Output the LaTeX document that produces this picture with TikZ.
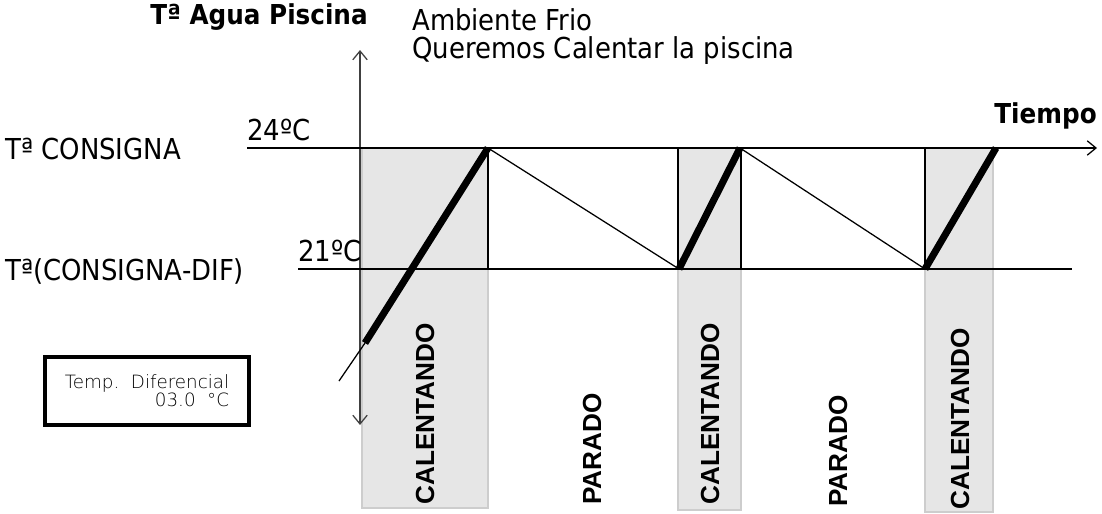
\documentclass[tikz,border=0pt]{standalone}
\usepackage{fontspec}
\setmainfont{DejaVu Sans Condensed}
\newfontfamily\statefont{Liberation Sans}
\newfontfamily\thinfont{DejaVu Sans ExtraLight}
\usetikzlibrary{arrows.meta,positioning}
\definecolor{BandGray}{RGB}{230,230,230}
\definecolor{BandEdge}{RGB}{205,205,205}

\begin{document}
\begin{tikzpicture}[x=0.025cm,y=-0.025cm,
    band/.style={fill=BandGray,draw=BandEdge,line width=0.8pt},
    heat/.style={line width=5pt},
    cool/.style={line width=0.9pt},
    axis/.style={line width=0.9pt,-{Straight Barb[length=2.2mm,width=3.6mm]}},
    lbl/.style={font=\fontsize{20.5}{20}\selectfont,inner sep=0pt},
    state/.style={font=\statefont\bfseries\fontsize{18.6}{20}\selectfont,rotate=90,anchor=west,inner sep=0pt}]
    \useasboundingbox (0,0) rectangle (1102,513);
    % heating bands
    \foreach \xa/\xb/\yb in {362/488/508,678/741/510,925/993/512} {
      \draw[band] (\xa,148) rectangle (\xb,\yb);
    }
    % key points
    \coordinate (sp0) at (247,148);
    \coordinate (spE) at (1097,148);
    \coordinate (dif0) at (298,269);
    \coordinate (difE) at (1072,269);
    \coordinate (yB) at (360,425);
    \coordinate (yT) at (360,50);
    \coordinate (t0) at (339,381);
    \coordinate (h1a) at (365,343);
    \coordinate (h1b) at (488,148);
    \coordinate (h2a) at (679,269);
    \coordinate (h2b) at (740,148);
    \coordinate (h3a) at (925,269);
    \coordinate (h3b) at (996,148);
    % axes and levels
    \draw[axis,{Straight Barb[length=2.2mm,width=3.6mm]}-{Straight Barb[length=2.2mm,width=3.6mm]},black!75] (yB) -- (yT);
    \draw[axis] (sp0) -- (spE);
    \draw[cool] (dif0) -- (difE);
    \foreach \x in {488,678,741,925} {
      \draw[cool] (\x,148) -- (\x,269);
    }
    % temperature curve
    \draw[cool] (t0) -- (h1a);
    \draw[heat] (h1a) -- (h1b);
    \draw[cool] (h1b) -- (h2a);
    \draw[heat] (h2a) -- (h2b);
    \draw[cool] (h2b) -- (h3a);
    \draw[heat] (h3a) -- (h3b);
    % texts
    \node[lbl,font=\bfseries\fontsize{19.5}{22}\selectfont,anchor=south east] (ylab) at (368,31) {Tª Agua Piscina};
    \node[lbl,anchor=north west,align=left] (note) at (412,8) {Ambiente Frio\\Queremos Calentar la piscina};
    \node[lbl,font=\bfseries\fontsize{19.5}{22}\selectfont,anchor=south east] (xlab) at (1097,129) {Tiempo};
    \node[lbl,anchor=south west] (v24) at (247,141) {24ºC};
    \node[lbl,anchor=west] (sp) at (5,149) {Tª CONSIGNA};
    \node[lbl,anchor=south west] (v21) at (298,262) {21ºC};
    \node[lbl,anchor=west] (dif) at (5,271) {Tª(CONSIGNA-DIF)};
    \node[draw,line width=2.8pt,minimum width=5.1cm,minimum height=1.68cm,align=right,
      font=\thinfont\fontsize{13}{13}\selectfont] (difbox) at (147,391) {Temp.\ \ Diferencial\\03.0\ \ °C};
    % states
    \node[state] (c1) at (425,505) {CALENTANDO};
    \node[state] (p1) at (592,505) {PARADO};
    \node[state] (c2) at (710,505) {CALENTANDO};
    \node[state] (p2) at (838,507) {PARADO};
    \node[state] (c3) at (960,510) {CALENTANDO};
  \end{tikzpicture}
\end{document}
